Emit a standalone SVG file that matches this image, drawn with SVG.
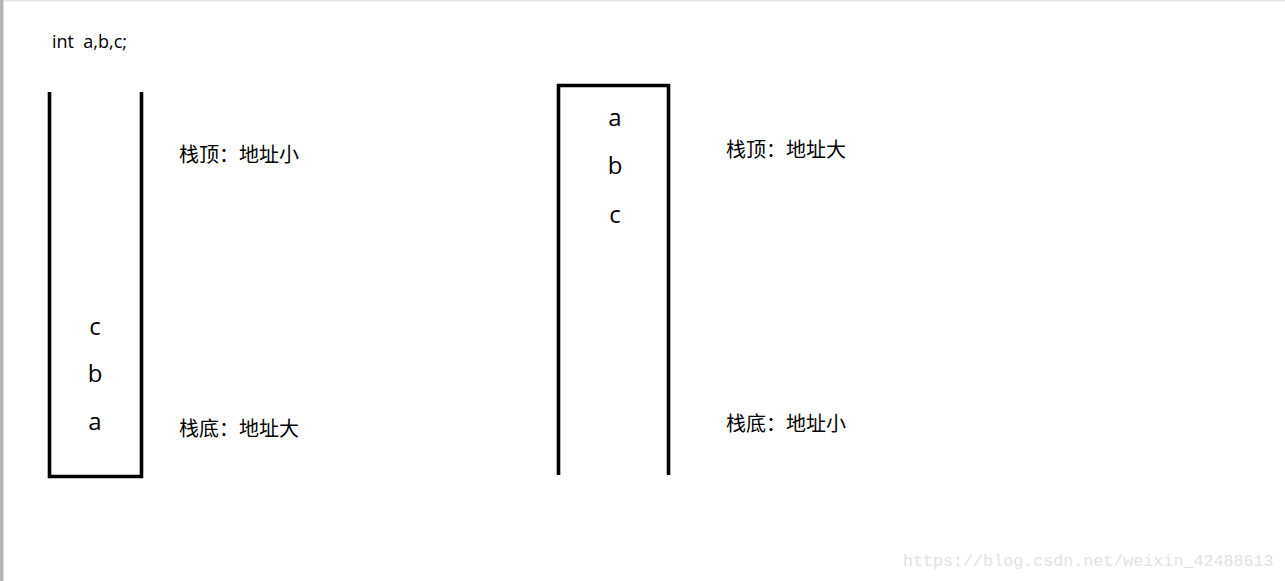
<svg xmlns="http://www.w3.org/2000/svg" width="1285" height="581" viewBox="0 0 1285 581">
<style>
.line{fill:none;stroke:#000;stroke-width:3.6;stroke-linecap:butt;stroke-linejoin:miter}
.lbl{font-family:"Noto Sans CJK SC","Microsoft YaHei",sans-serif;font-size:20px;fill:#000}
.var{font-family:"Open Sans","Noto Sans",sans-serif;font-size:24px;fill:#000;text-anchor:middle}
.code{font-family:"Open Sans","Noto Sans",sans-serif;font-size:18px;fill:#000;white-space:pre}
.wm{font-family:"Liberation Mono",monospace;font-size:16.7px;fill:#e2e2e2}
</style>
<rect x="0" y="0" width="1285" height="581" fill="#fff"/>
<rect x="0" y="0" width="1285" height="1.5" fill="#e6e6e6"/>
<rect x="0" y="0" width="3.5" height="581" fill="#b4b4b4"/>
<text class="code" x="52" y="48" xml:space="preserve">int  a,b,c;</text>
<g id="stack-left">
<path class="line" d="M49.5 92 V476.5 H141.5 V92"/>
<text class="var" x="95" y="335">c</text>
<text class="var" x="95" y="382">b</text>
<text class="var" x="95" y="430">a</text>
</g>
<g id="stack-right">
<path class="line" d="M558.5 475 V85.5 H668.5 V475"/>
<text class="var" x="615" y="126">a</text>
<text class="var" x="615" y="174">b</text>
<text class="var" x="615" y="223">c</text>
</g>
<g id="labels-left">
<text class="lbl" x="179" y="162">栈顶：地址小</text>
<text class="lbl" x="179" y="436">栈底：地址大</text>
</g>
<g id="labels-right">
<text class="lbl" x="726" y="157">栈顶：地址大</text>
<text class="lbl" x="726" y="431">栈底：地址小</text>
</g>
<text class="wm" x="903" y="566">https://blog.csdn.net/weixin_42488613</text>
</svg>
